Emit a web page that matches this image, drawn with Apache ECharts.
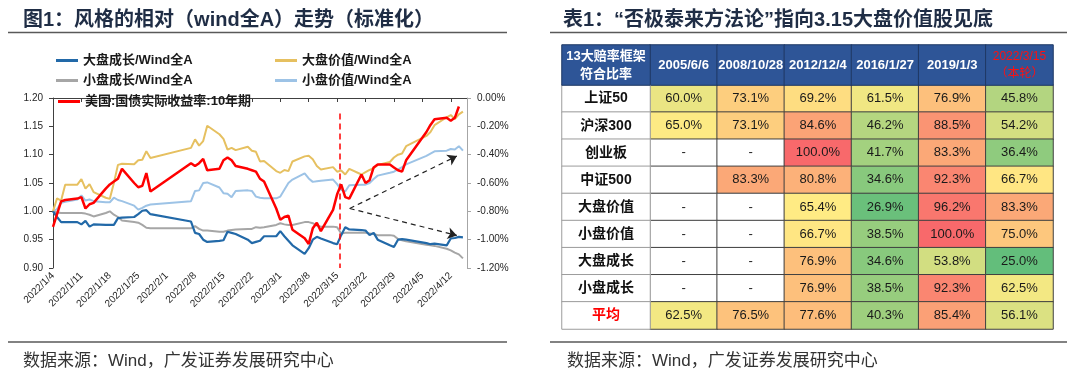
<!DOCTYPE html>
<html>
<head>
<meta charset="utf-8">
<script src="https://cdn.jsdelivr.net/npm/echarts@6/dist/echarts.min.js"></script>
<style>
  html, body { margin: 0; padding: 0; background: #fff; }
  #main { width: 1080px; height: 375px; }
</style>
</head>
<body>
<div id="main"></div>
<script>
// ---- 图1 数据（相对 wind全A，标准化） ----
const tradeDays = ['1/4','1/5','1/6','1/7','1/10','1/11','1/12','1/13','1/14','1/17','1/18','1/19','1/20','1/21','1/24','1/25','1/26','1/27','1/28',
  '2/7','2/8','2/9','2/10','2/11','2/14','2/15','2/16','2/17','2/18','2/21','2/22','2/23','2/24','2/25','2/28',
  '3/1','3/2','3/3','3/4','3/7','3/8','3/9','3/10','3/11','3/14','3/15','3/16','3/17','3/18','3/21','3/22','3/23','3/24','3/25','3/28','3/29','3/30','3/31',
  '4/1','4/6','4/7','4/8','4/11','4/12','4/13','4/14','4/15']

const largeGrowth = [1.000,0.990,0.981,0.981,0.981,0.977,0.983,0.973,0.977,0.976,0.976,0.976,0.988,0.989,0.990,0.995,1.001,1.002,0.995,
  0.982,0.962,0.960,0.950,0.946,0.948,0.949,0.964,0.962,0.960,0.950,0.944,0.946,0.948,0.956,0.956,
  0.965,0.956,0.948,0.940,0.925,0.935,0.950,0.955,0.952,0.944,0.942,0.958,0.972,0.968,0.967,0.966,0.958,0.962,0.950,0.940,0.937,0.950,0.951,
  0.950,0.944,0.942,0.943,0.940,0.952,0.953,0.955,0.954]

const largeValue = [1.000,1.023,1.019,1.047,1.047,1.057,1.040,1.048,1.034,1.024,1.022,1.050,1.082,1.084,1.083,1.090,1.091,1.106,1.094,
  1.112,1.127,1.116,1.124,1.151,1.136,1.128,1.109,1.112,1.108,1.114,1.107,1.105,1.088,1.089,1.071,
  1.068,1.073,1.071,1.088,1.097,1.098,1.092,1.080,1.074,1.078,1.070,1.072,1.065,1.075,1.065,1.069,1.073,1.076,1.082,1.087,1.095,1.100,1.102,
  1.115,1.133,1.140,1.152,1.166,1.170,1.163,1.171,1.176]

const smallGrowth = [1.000,0.998,0.997,0.997,0.997,0.997,0.996,0.994,0.991,0.997,1.000,0.994,0.990,0.984,0.981,0.980,0.976,0.971,0.970,
  0.970,0.974,0.969,0.966,0.966,0.964,0.964,0.966,0.967,0.968,0.969,0.969,0.972,0.971,0.972,0.976,
  0.979,0.977,0.976,0.976,0.981,0.981,0.979,0.975,0.973,0.973,0.972,0.961,0.962,0.962,0.962,0.962,0.961,0.960,0.958,0.958,0.957,0.951,0.949,
  0.947,0.941,0.940,0.939,0.934,0.931,0.927,0.924,0.917]

const smallValue = [1.000,1.004,1.015,1.017,1.021,1.028,1.019,1.021,1.018,1.016,1.016,1.024,1.020,1.018,1.010,1.003,1.006,1.010,1.012,
  1.018,1.036,1.037,1.050,1.051,1.042,1.032,1.031,1.025,1.036,1.037,1.036,1.026,1.024,1.023,1.023,
  1.026,1.038,1.050,1.056,1.067,1.058,1.052,1.053,1.054,1.056,1.048,1.038,1.035,1.046,1.047,1.047,1.050,1.057,1.063,1.068,1.070,1.074,1.078,
  1.083,1.098,1.102,1.106,1.107,1.110,1.109,1.115,1.107]

// 美国:国债实际收益率:10年期 (%)
const usRealYield = [-0.91,-0.82,-0.73,-0.72,-0.71,-0.70,-0.78,-0.75,-0.74,-0.64,-0.61,-0.59,-0.57,-0.50,-0.60,-0.63,-0.62,-0.53,-0.66,
  -0.46,-0.48,-0.46,-0.43,-0.51,-0.50,-0.44,-0.42,-0.44,-0.48,-0.50,-0.51,-0.52,-0.57,-0.59,-0.78,
  -0.86,-0.84,-0.83,-0.93,-0.99,-1.03,-0.92,-0.88,-0.94,-0.79,-0.68,-0.61,-0.70,-0.71,-0.54,-0.60,-0.58,-0.49,-0.47,-0.47,-0.49,-0.51,-0.52,
  -0.44,-0.24,-0.19,-0.15,-0.14,-0.16,-0.14,-0.06,null]

// ---- 表1 数据 ----
const dates = ['2005/6/6','2008/10/28','2012/12/4','2016/1/27','2019/1/3','2022/3/15']
const rowNames = ['上证50','沪深300','创业板','中证500','大盘价值','小盘价值','大盘成长','小盘成长','平均']
const sz50   = [60.0, 73.1, 69.2, 61.5, 76.9, 45.8]
const hs300  = [65.0, 73.1, 84.6, 46.2, 88.5, 54.2]
const cyb    = ['-', '-', 100.0, 41.7, 83.3, 36.4]
const zz500  = ['', 83.3, 80.8, 34.6, 92.3, 66.7]
const dpjz   = ['-', '-', 65.4, 26.9, 96.2, 83.3]
const xpjz   = ['-', '-', 66.7, 38.5, 100.0, 75.0]
const dpcz   = ['-', '-', 76.9, 34.6, 53.8, 25.0]
const xpcz   = ['-', '-', 76.9, 38.5, 92.3, 62.5]
const avg    = [62.5, 76.5, 77.6, 40.3, 85.4, 56.1]
const tableRows = [sz50, hs300, cyb, zz500, dpjz, xpjz, dpcz, xpcz, avg]

const FONT = "Arial, 'Liberation Sans', 'Noto Sans CJK SC', sans-serif"

const base = Date.UTC(2022, 0, 4)
const dayIndex = tradeDays.map(s => {
    const [m, d] = s.split('/').map(Number)
    return Math.round((Date.UTC(2022, m - 1, d) - base) / 864e5)
})
const toXY = arr => arr.map((v, i) => [dayIndex[i], v])

// Excel 式三色阶：绿-黄-红
function scaleColor(v){
    const lo = [99,190,123], mid = [255,235,132], hi = [248,105,107]
    let a, b, t
    if(v <= 65.5){ a = lo; b = mid; t = (v - 25) / 40.5 }
    else { a = mid; b = hi; t = (v - 65.5) / 34.5 }
    t = Math.max(0, Math.min(1, t))
    const c = a.map((x, i) => Math.round(x + (b[i] - x) * t))
    return `rgb(${c[0]},${c[1]},${c[2]})`
}

const tableData = []
tableRows.forEach((row, r) => {
    row.forEach((val, c) => {
        const isNum = typeof val === 'number'
        tableData.push({
            value: [c, r, isNum ? val : 0],
            txt: isNum ? val.toFixed(1) + '%' : val,
            itemStyle: { color: isNum ? scaleColor(val) : '#ffffff' }
        })
    })
})

// 表头：最后一列（本轮）标红
const headerData = dates.map((d, c) => {
    const isLast = c === dates.length - 1
    return {
        value: [c, 0, 0],
        txt: isLast ? d + '\n（本轮）' : d,
        label: isLast ? { color: '#FF1010', fontSize: 12, fontWeight: 'normal', lineHeight: 17 } : {}
    }
})

const lineStyleOf = (color, w) => ({ color: color, width: w })
function legendAt(name, left, top){
    return {
        data: [name], left: left, top: top, padding: 0,
        icon: 'rect', itemWidth: 22, itemHeight: 3,
        textStyle: { fontSize: 13, fontWeight: 'bold', color: '#1a1a1a', fontFamily: FONT }
    }
}
const hiddenCat = (gridIndex, data, inverse) => ({ type: 'category', gridIndex: gridIndex, data: data, show: false, inverse: !!inverse })

const chart = echarts.init(document.getElementById('main'))
const option = {
    animation: false,
    title: [
        { text: '图1：风格的相对（wind全A）走势（标准化）', left: 18, top: 5,
          textStyle: { fontSize: 20, fontWeight: 'bold', color: '#1F2D45', fontFamily: FONT } },
        { text: '表1：“否极泰来方法论”指向3.15大盘价值股见底', left: 558, top: 5,
          textStyle: { fontSize: 20, fontWeight: 'bold', color: '#1F2D45', fontFamily: FONT } },
        { text: '数据来源：Wind，广发证券发展研究中心', left: 18, top: 348,
          textStyle: { fontSize: 17, fontWeight: 'normal', color: '#333', fontFamily: FONT } },
        { text: '数据来源：Wind，广发证券发展研究中心', left: 562, top: 348,
          textStyle: { fontSize: 17, fontWeight: 'normal', color: '#333', fontFamily: FONT } }
    ],
    legend: [
        legendAt('大盘成长/Wind全A', 56, 54),
        legendAt('大盘价值/Wind全A', 275, 54),
        legendAt('小盘成长/Wind全A', 56, 74),
        legendAt('小盘价值/Wind全A', 275, 74),
        legendAt('美国:国债实际收益率:10年期', 58, 95)
    ],
    graphic: [
        { type: 'line', shape: { x1: 8, y1: 32.5, x2: 507, y2: 32.5 }, style: { stroke: '#595959', lineWidth: 1.5 } },
        { type: 'line', shape: { x1: 550, y1: 32.5, x2: 1067, y2: 32.5 }, style: { stroke: '#595959', lineWidth: 1.5 } },
        { type: 'line', shape: { x1: 8, y1: 342, x2: 507, y2: 342 }, style: { stroke: '#595959', lineWidth: 1.5 } },
        { type: 'line', shape: { x1: 550, y1: 342, x2: 1067, y2: 342 }, style: { stroke: '#595959', lineWidth: 1.5 } }
    ],
    grid: [
        { left: 53, top: 98, width: 414, height: 170 },   // 折线
        { left: 650, top: 85, width: 403, height: 244 },  // 表格数值
        { left: 650, top: 45, width: 403, height: 40 },   // 表头
        { left: 562, top: 85, width: 88, height: 244 },   // 行名
        { left: 562, top: 45, width: 88, height: 40 }     // 左上角
    ],
    xAxis: [
        {
            type: 'value', gridIndex: 0, min: 0, max: 102, interval: 7,
            splitLine: { show: false },
            axisLine: { lineStyle: { color: '#404040' } },
            axisTick: { show: true, length: 4, lineStyle: { color: '#404040' } },
            axisLabel: {
                rotate: 45, fontSize: 10, color: '#262626', fontFamily: FONT, margin: 6,
                showMaxLabel: false,
                formatter: v => {
                    const t = new Date(base + v * 864e5)
                    return `2022/${t.getUTCMonth() + 1}/${t.getUTCDate()}`
                }
            }
        },
        hiddenCat(1, dates),
        hiddenCat(2, dates),
        hiddenCat(3, ['c']),
        hiddenCat(4, ['c'])
    ],
    yAxis: [
        {
            type: 'value', gridIndex: 0, min: 0.9, max: 1.2, interval: 0.05,
            splitLine: { show: false },
            axisLine: { show: true, lineStyle: { color: '#404040' } },
            axisTick: { show: true, length: 4, lineStyle: { color: '#404040' } },
            axisLabel: { fontSize: 10, color: '#262626', fontFamily: FONT, margin: 10, formatter: v => v.toFixed(2) }
        },
        {
            type: 'value', gridIndex: 0, min: -1.2, max: 0, interval: 0.2, position: 'right',
            splitLine: { show: false },
            axisLine: { show: true, lineStyle: { color: '#a6a6a6' } },
            axisTick: { show: true, length: 4, lineStyle: { color: '#a6a6a6' } },
            axisLabel: { fontSize: 10, color: '#262626', fontFamily: FONT, margin: 10, formatter: v => v.toFixed(2) + '%' }
        },
        hiddenCat(1, rowNames, true),
        hiddenCat(2, ['h']),
        hiddenCat(3, rowNames, true),
        hiddenCat(4, ['h'])
    ],
    series: [
        { name: '小盘成长/Wind全A', type: 'line', data: toXY(smallGrowth), showSymbol: false, color: '#A6A6A6', lineStyle: lineStyleOf('#A6A6A6', 2) },
        { name: '小盘价值/Wind全A', type: 'line', data: toXY(smallValue), showSymbol: false, color: '#9DC3E6', lineStyle: lineStyleOf('#9DC3E6', 2) },
        { name: '大盘价值/Wind全A', type: 'line', data: toXY(largeValue), showSymbol: false, color: '#E6C060', lineStyle: lineStyleOf('#E6C060', 2) },
        { name: '大盘成长/Wind全A', type: 'line', data: toXY(largeGrowth), showSymbol: false, color: '#2269A8', lineStyle: lineStyleOf('#2269A8', 2.2) },
        {
            name: '美国:国债实际收益率:10年期', type: 'line', yAxisIndex: 1, data: toXY(usRealYield),
            showSymbol: false, color: '#FF0000', lineStyle: lineStyleOf('#FF0000', 2.5),
            markLine: {
                silent: true, symbol: ['none', 'none'], label: { show: false },
                data: [
                    [{ coord: [70.7, -0.11], lineStyle: { color: '#FF0000', type: [6, 4], width: 1.5 } }, { coord: [70.7, -1.2] }],
                    [{ coord: [73.1, -0.78], lineStyle: { color: '#222', type: [5, 4], width: 1.2 } },
                     { coord: [99.5, -0.41], symbol: 'arrow', symbolSize: 9 }],
                    [{ coord: [73.1, -0.78], lineStyle: { color: '#222', type: [5, 4], width: 1.2 } },
                     { coord: [99.5, -0.97], symbol: 'arrow', symbolSize: 9 }]
                ]
            }
        },
        {
            type: 'heatmap', xAxisIndex: 1, yAxisIndex: 2, data: tableData,
            itemStyle: { borderColor: '#404040', borderWidth: 1 },
            label: { show: true, formatter: p => p.data.txt, fontSize: 13, color: '#1a1a1a', fontFamily: FONT },
            emphasis: { disabled: true }
        },
        {
            type: 'heatmap', xAxisIndex: 2, yAxisIndex: 3, data: headerData,
            itemStyle: { color: '#2E5597', borderColor: '#1F3864', borderWidth: 1 },
            label: { show: true, formatter: p => p.data.txt, color: '#fff', fontSize: 13, fontWeight: 'bold', fontFamily: FONT },
            emphasis: { disabled: true }
        },
        {
            type: 'heatmap', xAxisIndex: 3, yAxisIndex: 4,
            data: rowNames.map((n, r) => ({ value: [0, r, 0], label: { color: n === '平均' ? '#FF0000' : '#111' } })),
            itemStyle: { color: '#ffffff', borderColor: '#9c9c9c', borderWidth: 1 },
            label: { show: true, formatter: p => rowNames[p.dataIndex], fontSize: 14, fontWeight: 'bold', fontFamily: FONT },
            emphasis: { disabled: true }
        },
        {
            type: 'heatmap', xAxisIndex: 4, yAxisIndex: 5,
            data: [[0, 0, 0]],
            itemStyle: { color: '#2E5597', borderColor: '#1F3864', borderWidth: 1 },
            label: { show: true, formatter: '13大赔率框架\n符合比率', color: '#fff', fontSize: 13, fontWeight: 'bold', lineHeight: 18, fontFamily: FONT },
            emphasis: { disabled: true }
        }
    ]
}
chart.setOption(option)
</script>
</body>
</html>
